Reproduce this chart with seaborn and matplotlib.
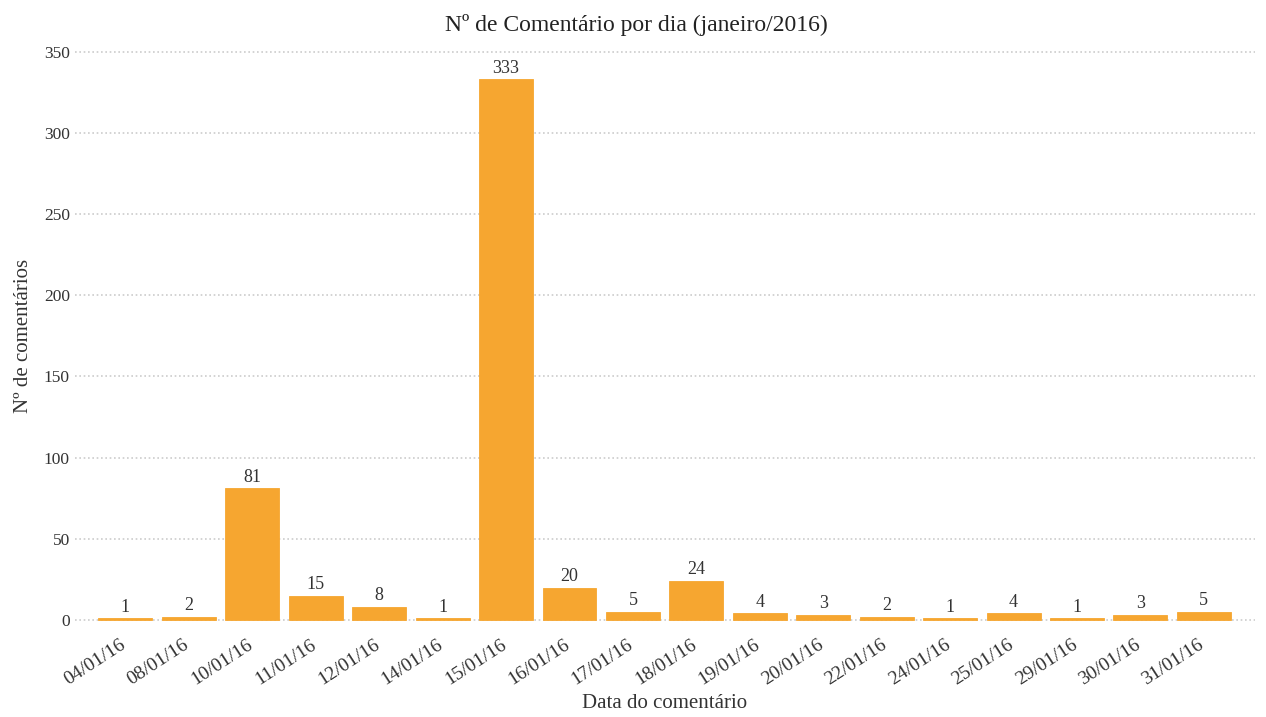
# Comentários por dia - janeiro/2016
import pandas as pd
import matplotlib.pyplot as plt
import matplotlib.transforms as mtransforms
import seaborn as sns

# Dados
datas = ['04/01/16', '08/01/16', '10/01/16', '11/01/16', '12/01/16', '14/01/16',
         '15/01/16', '16/01/16', '17/01/16', '18/01/16', '19/01/16', '20/01/16',
         '22/01/16', '24/01/16', '25/01/16', '29/01/16', '30/01/16', '31/01/16']
comentarios = [1, 2, 81, 15, 8, 1, 333, 20, 5, 24, 4, 3, 2, 1, 4, 1, 3, 5]
y_ticks = [0, 50, 100, 150, 200, 250, 300, 350]

data = pd.DataFrame({'data': datas, 'comentarios': comentarios})

sns.set_theme(style='white')
plt.rcParams['font.family'] = ['Liberation Serif', 'DejaVu Serif']

fig = plt.figure(figsize=(12.66, 7.17), dpi=100)
ax = fig.add_axes([0.059, 0.124, 0.932, 0.815])

cor = '#F6A630'
sns.barplot(x='data', y='comentarios', data=data, color=cor,
            saturation=1, width=0.85, edgecolor=cor, linewidth=0.6, ax=ax)

# Rótulos em cima das barras
for container in ax.containers:
    ax.bar_label(container, fontsize=13, color='#333333', padding=2)

ax.set_ylim(-5, 355)
ax.set_xlim(-0.8, len(datas) - 0.2)
ax.set_yticks(y_ticks)
ax.yaxis.grid(True, linestyle=(0, (1, 1.6)), color='#cccccc', linewidth=1.2)
ax.set_axisbelow(True)
sns.despine(ax=ax, left=True, bottom=True)
ax.tick_params(axis='y', length=0, labelsize=12.5, labelcolor='#333333')
ax.tick_params(axis='x', length=0, labelsize=14, labelcolor='#333333', pad=6)

deslocamento = mtransforms.ScaledTranslation(-6 / 100, 0, fig.dpi_scale_trans)
for label in ax.get_xticklabels():
    label.set_rotation(33)
    label.set_ha('right')
    label.set_rotation_mode('anchor')
    label.set_transform(label.get_transform() + deslocamento)

fig.suptitle('Nº de Comentário por dia (janeiro/2016)', x=0.503, y=0.981,
             fontsize=17, color='#222222', va='top')
ax.set_xlabel('Data do comentário', fontsize=15, color='#333333', labelpad=4)
ax.set_ylabel('Nº de comentários', fontsize=15, color='#333333', labelpad=8)

plt.savefig('out.png', dpi=100)
